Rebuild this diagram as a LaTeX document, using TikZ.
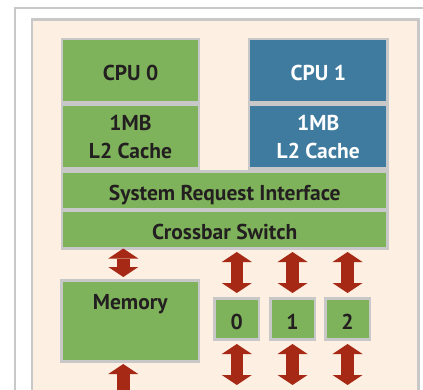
\documentclass[tikz,border=0pt]{standalone}
\usepackage{fontspec}
\setmainfont{PT Sans}
\usepackage{tikz}
\usetikzlibrary{arrows.meta}
\definecolor{chipgreen}{RGB}{126,179,91}
\definecolor{chipblue}{RGB}{63,123,158}
\definecolor{boardpeach}{RGB}{253,239,225}
\definecolor{rimgray}{RGB}{200,200,200}
\definecolor{linkred}{RGB}{166,41,22}
\definecolor{inkdark}{RGB}{35,31,32}
\tikzset{
  unit/.style={draw=rimgray, line width=2.5pt, fill=chipgreen, anchor=north west,
    outer sep=0pt, inner sep=0pt, align=center, chiptext},
  blueunit/.style={unit, fill=chipblue, text=white},
  oneline/.style={text height=20pt, text depth=0pt},
  chiptext/.style={text=inkdark, font=\fontsize{21.5}{27.5}\selectfont\bfseries},
  dims/.style 2 args={minimum width=#1pt, minimum height=#2pt},
  link/.style={draw=linkred, line width=12.5pt,
    {Triangle[width=30pt,length=10pt,line width=0pt]}-{Triangle[width=30pt,length=10pt,line width=0pt]}}
}

\begin{document}
\begin{tikzpicture}[x=1pt,y=-1pt]
\useasboundingbox (0,0) rectangle (423,390);
\clip (0,0) rectangle (423,390);
% frame and board
\draw[rimgray, line width=2pt] (15,400)--(15,8)--(440,8);
\draw[rimgray, line width=2.5pt, fill=boardpeach] (32,400)--(32,19.3)--(418.5,19.3)--(418.5,400);
% the two cores
\node[unit, oneline, dims={137}{63.3}] (cpu0) at (62,39) {CPU 0};
\node[unit, dims={137}{63.5}] (cache0) at (62,105) {1MB\\L2 Cache};
\node[blueunit, oneline, dims={138.5}{63.3}] (cpu1) at (249,39) {CPU 1};
\node[blueunit, dims={138.5}{63.5}] (cache1) at (249,105) {1MB\\L2 Cache};
\node[unit, oneline, dims={325.5}{37.5}] (sri) at (62,171.5) {System Request Interface};
\node[unit, oneline, dims={325.5}{37.5}] (xbar) at (62,211) {Crossbar Switch};
% memory
\node[unit, dims={137.5}{81}] (mem) at (61.5,280.5) {};
\node[chiptext] (memlabel) at ([yshift=-24pt]mem.north) {Memory};
\coordinate (memport) at ([xshift=-7pt]mem.north);
\path ([xshift=-7pt]mem.south) ++(0,50) coordinate (memout);
\draw[link, shorten >=3.5pt] (xbar.south -| memport) -- (memport);
\draw[link, shorten <=2.5pt] ([xshift=-7pt]mem.south) -- (memout);
% links 0, 1, 2
\foreach \n/\x in {0/214.5,1/270.3,2/325.3}{
  \node[unit, oneline, dims={44.5}{41.2}] (ht\n) at (\x,298.5) {\n};
  \path (ht\n.south) ++(0,45.3) coordinate (out\n);
  \draw[link, shorten <=3.5pt, shorten >=5.5pt] (xbar.south -| ht\n.north) -- (ht\n.north);
  \draw[link, shorten <=4.3pt] (ht\n.south) -- (out\n);
}
\end{tikzpicture}
\end{document}
